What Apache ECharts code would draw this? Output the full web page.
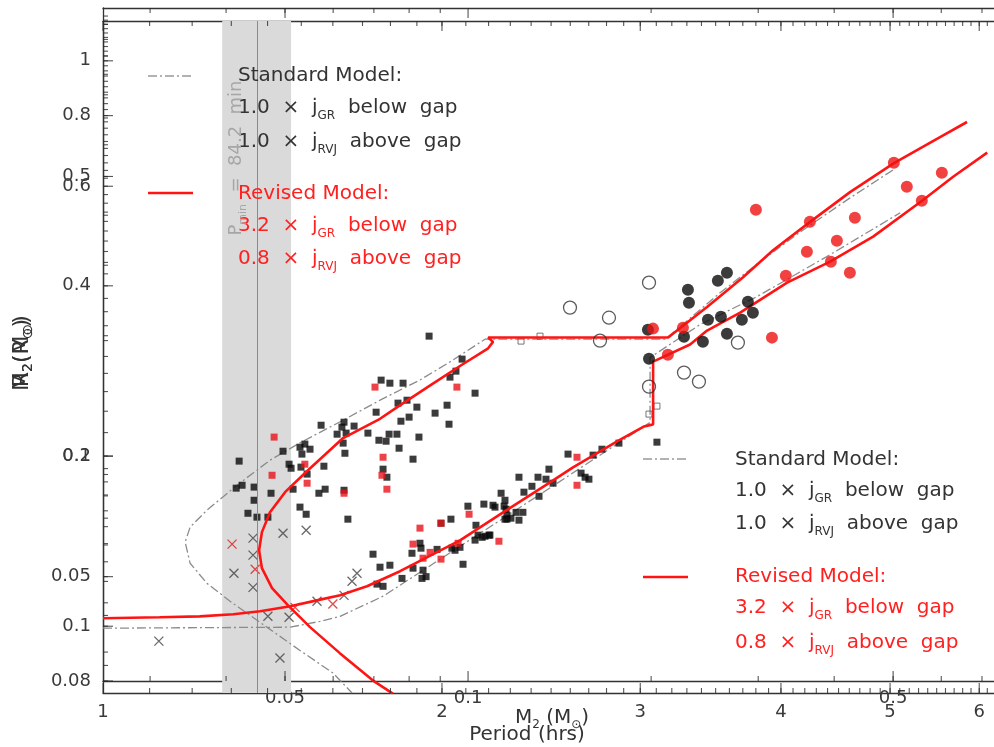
<!DOCTYPE html>
<html><head><meta charset="utf-8">
<script src="https://cdn.jsdelivr.net/npm/echarts@6/dist/echarts.min.js"></script>
<style>html,body{margin:0;padding:0;background:#fff}#c{width:994px;height:747px}</style>
</head><body><div id="c"></div><script>
// ---------- tick labels ----------
const periodTickLabels = [1, 2, 3, 4, 5, 6];
const m2TickLabels = [0.05, 0.1, 0.5];
const r2TickLabels = [0.08, 0.1, 0.2, 0.4, 0.6, 0.8, 1];

// ---------- period-gap / period-minimum band (hrs) ----------
const bandStart = 1.276, bandEnd = 1.469, pMin = 1.370;

// ---------- M2 - P plane  [Period (hrs), M2 (Msun)] ----------
const revisedMP = [[5.852,0.684],[5.538,0.627],[5.040,0.540],[4.607,0.457],[4.246,0.385],[3.936,0.327],[3.702,0.280],[3.439,0.236],[3.176,0.198],[2.198,0.198],[2.220,0.193],[2.198,0.186],[2.075,0.168],[1.951,0.150],[1.835,0.134],[1.762,0.124],[1.634,0.111],[1.514,0.0912],[1.451,0.0813],[1.407,0.0724],[1.384,0.0646],[1.376,0.0582],[1.384,0.0525],[1.413,0.0468],[1.460,0.0424],[1.527,0.0374],[1.623,0.0322],[1.737,0.0275],[1.809,0.0255]];
const standardMP = [[5.030,0.519],[4.607,0.442],[4.159,0.363],[3.832,0.306],[3.532,0.256],[3.321,0.221],[3.156,0.196],[2.184,0.196],[2.033,0.172],[1.912,0.155],[1.762,0.138],[1.634,0.123],[1.496,0.108],[1.407,0.0977],[1.315,0.0846],[1.237,0.0733],[1.195,0.0665],[1.183,0.0610],[1.195,0.0540],[1.237,0.0481],[1.304,0.0429],[1.398,0.0374],[1.496,0.0327],[1.601,0.0287],[1.664,0.0256]];
const blackSquares = [[1.948,0.1995],[2.084,0.1748],[2.058,0.1631],[2.033,0.1576],[1.766,0.1549],[1.798,0.1522],[1.847,0.1522],[2.140,0.1437],[2.021,0.1341],[1.972,0.1281],[1.900,0.1326],[1.870,0.1252],[1.828,0.1357],[1.862,0.1380],[1.839,0.1223],[2.029,0.1202],[1.908,0.1116],[1.824,0.1135],[1.795,0.1135],[1.758,0.1096],[1.784,0.1090],[1.832,0.1047],[1.885,0.0983],[1.773,0.0928],[1.748,0.1288],[1.787,0.0886],[1.637,0.1216],[1.630,0.1182],[1.671,0.1189],[1.614,0.1135],[1.644,0.1142],[1.562,0.1195],[1.719,0.1142],[1.640,0.1017],[1.634,0.1078],[1.496,0.1053],[1.511,0.1072],[1.527,0.1041],[1.445,0.1029],[1.502,0.1012],[1.321,0.0972],[1.463,0.0955],[1.469,0.0933],[1.499,0.0939],[1.571,0.0944],[1.518,0.0902],[1.313,0.0832],[1.329,0.0846],[1.362,0.0837],[1.410,0.0808],[1.362,0.0776],[1.555,0.0808],[1.575,0.0827],[1.637,0.0822],[1.345,0.0720],[1.370,0.0704],[1.401,0.0704],[1.496,0.0746],[1.515,0.0716],[1.650,0.0696],[1.475,0.0827],
[1.737,0.0569],[1.762,0.0528],[1.798,0.0534],[1.751,0.0479],[1.773,0.0473],[1.843,0.0495],[1.885,0.0525],[1.924,0.0519],[1.936,0.0500],[1.920,0.0495],[1.912,0.0606],[1.916,0.0589],[1.881,0.0572],[1.980,0.0585],[2.041,0.0589],[2.075,0.0592],[2.054,0.0582],[2.088,0.0537],[2.037,0.0696],[1.996,0.0680],[2.109,0.0750],[2.179,0.0759],[2.229,0.0746],[2.220,0.0754],[2.144,0.0672],[2.153,0.0635],[2.140,0.0617],[2.184,0.0631],[2.202,0.0635],[2.171,0.0627],[2.257,0.0808],[2.275,0.0776],[2.271,0.0750],[2.284,0.0712],[2.284,0.0696],[2.327,0.0724],[2.360,0.0724],[2.341,0.0692],[2.341,0.0886],[2.434,0.0886],[2.474,0.0876],[2.365,0.0813],[2.404,0.0841],[2.439,0.0794],[2.489,0.0928],[2.510,0.0856],[2.588,0.1012],[2.724,0.1006],[2.774,0.1041],[2.872,0.1078],[2.658,0.0907],[2.680,0.0886],[2.701,0.0876],[2.206,0.0635],[2.303,0.0700],[2.280,0.0737],[2.275,0.0696],[3.104,0.1084]];
const redSquares = [[1.744,0.1488],[2.062,0.1488],[1.419,0.1116],[1.511,0.0955],[1.413,0.0896],[1.518,0.0856],[1.637,0.0808],[1.773,0.0994],[1.769,0.0896],[1.787,0.0827],[1.912,0.0661],[1.885,0.0603],[1.996,0.0680],[2.114,0.0716],[2.067,0.0606],[1.996,0.0553],[1.924,0.0556],[1.952,0.0575],[2.247,0.0613],[2.636,0.0994],[2.636,0.0846]];
const blackCrosses = [[1.445,0.0642],[1.515,0.0653],[1.359,0.0624],[1.359,0.0566],[1.307,0.0510],[1.359,0.0470],[1.401,0.0398],[1.463,0.0396],[1.436,0.0313],[1.121,0.0345],[1.681,0.0510],[1.664,0.0487],[1.637,0.0449],[1.549,0.0434]];
const redCrosses = [[1.302,0.0603],[1.365,0.0522],[1.481,0.0419],[1.600,0.0427]];
const openSquares = [[2.351,0.1939],[2.444,0.1995],[3.054,0.1274],[3.104,0.1334]];

// ---------- R2 - M2 plane  [M2 (Msun), R2 (Rsun)] ----------
const revisedRM = [[0.0251,0.1033],[0.0311,0.1037],[0.0362,0.1041],[0.0411,0.1050],[0.0455,0.1063],[0.0510,0.1085],[0.0564,0.1111],[0.0616,0.1134],[0.0682,0.1177],[0.0773,0.1251],[0.0843,0.1313],[0.0970,0.1418],[0.1142,0.1590],[0.1364,0.1796],[0.1488,0.1910],[0.1758,0.2123],[0.1948,0.2256],[0.2015,0.2275],[0.2015,0.2938],[0.2318,0.3149],[0.2472,0.3334],[0.2802,0.3587],[0.3347,0.4053],[0.3939,0.4414],[0.4636,0.4887],[0.5580,0.5657],[0.6276,0.6237],[0.7140,0.6879]];
const standardRM = [[0.0251,0.0992],[0.0510,0.0996],[0.0571,0.1020],[0.0616,0.1041],[0.0725,0.1130],[0.1328,0.1724],[0.1992,0.2293],[0.1992,0.2987],[0.2407,0.3416],[0.2987,0.3828],[0.3939,0.4541],[0.5137,0.5386]];
const openCircles = [[0.1471,0.366],[0.1705,0.3513],[0.1648,0.3199],[0.1984,0.4052],[0.2778,0.3174],[0.2265,0.2809],[0.2397,0.2708],[0.1984,0.2653]];
const blackCircles = [[0.1976,0.3346],[0.1984,0.2973],[0.2299,0.3938],[0.2308,0.3735],[0.2575,0.4085],[0.2665,0.4220],[0.2480,0.3485],[0.2605,0.3528],[0.2820,0.3485],[0.2885,0.3750],[0.2940,0.3586],[0.2665,0.3292],[0.2433,0.3186],[0.2265,0.3252]];
const redCircles = [[0.2974,0.5454],[0.3648,0.5194],[0.3607,0.4597],[0.4041,0.4807],[0.4326,0.5279],[0.3331,0.4169],[0.3950,0.4413],[0.4245,0.4220],[0.5014,0.6603],[0.5266,0.5989],[0.5574,0.5657],[0.6013,0.6340],[0.3160,0.3239],[0.2014,0.3360],[0.2131,0.3022],[0.2256,0.3373]];

// ---------- axis ranges & minor tick positions ----------
const pRange = [1, 6.184], m2ARange = [0.0256, 1.223], m2BRange = [0.0251, 0.7326], r2Range = [0.08, 1.24];
function steps(a, b, s) { const r = []; for (let v = a; v <= b + 1e-9; v += s) r.push(+v.toFixed(4)); return r; }
const periodMinor = steps(1.1, 6.1, 0.1);
const m2XMinor = steps(0.03, 0.09, 0.01).concat(steps(0.2, 0.7, 0.1));
const m2YMinor = steps(0.03, 0.09, 0.01).concat(steps(0.2, 1.2, 0.1));
const r2Minor = steps(0.08, 0.2, 0.01).concat(steps(0.22, 1.2, 0.02));

const AX = '#333';
const FONT = 'DejaVu Sans';
const fmt = v => String(+Number(v).toPrecision(4));

function axis(grid, range, pos, labels, margin) {
  return {
    gridIndex: grid, type: 'log', logBase: 10, min: range[0], max: range[1], position: pos,
    axisLine: { show: true, onZero: false, lineStyle: { color: AX, width: 1.3 } },
    axisTick: { show: false },
    axisLabel: labels ? { show: true, customValues: labels, formatter: fmt, margin: margin,
      fontSize: 18, fontFamily: FONT, color: '#3a3a3a' } : { show: false },
    splitLine: { show: false }, minorTick: { show: false }, minorSplitLine: { show: false }
  };
}

const xAxis = [
  axis(0, pRange, 'bottom', periodTickLabels, 10),
  axis(0, pRange, 'top', null, 0),
  axis(1, m2BRange, 'bottom', m2TickLabels, 8),
  axis(1, m2BRange, 'top', null, 0)
];
const yAxis = [
  axis(0, m2ARange, 'left', m2TickLabels, 12),
  axis(1, r2Range, 'left', r2TickLabels, 12)
];

// inward tick marks as tiny bars anchored on the frame edges (positioned by the axes' scales)
function tickMarks(xi, yi, values, side, len, xr, yr) {
  const data = values.map(v => side === 'left' ? [xr[0], v] : side === 'bottom' ? [v, yr[0]] : [v, yr[1]]);
  return {
    type: 'scatter', xAxisIndex: xi, yAxisIndex: yi, data: data, silent: true, clip: false, z: 7,
    symbol: 'rect', symbolSize: side === 'left' ? [len, 1.1] : [1.1, len],
    symbolOffset: side === 'left' ? [len / 2, 0] : side === 'bottom' ? [0, -len / 2] : [0, len / 2],
    itemStyle: { color: '#2a2a2a' }, emphasis: { disabled: true }
  };
}

const crossPath = 'path://M0,0L10,10M10,0L0,10';
const A = { xAxisIndex: 0, yAxisIndex: 0 };
const B = { xAxisIndex: 2, yAxisIndex: 1 };
const series = [
  Object.assign({ type: 'line', data: [], z: 1, silent: true,
    markArea: { silent: true, itemStyle: { color: '#dadada' }, data: [[{ xAxis: bandStart }, { xAxis: bandEnd }]] },
    markLine: { silent: true, symbol: ['none', 'none'], label: { show: false }, lineStyle: { color: '#8a8a8a', width: 1, type: 'solid' }, data: [{ xAxis: pMin }] }
  }, A),
  tickMarks(0, 0, periodTickLabels, 'bottom', 10, pRange, m2ARange),
  tickMarks(0, 0, periodMinor, 'bottom', 5, pRange, m2ARange),
  tickMarks(0, 0, periodTickLabels, 'top', 10, pRange, m2ARange),
  tickMarks(0, 0, periodMinor, 'top', 5, pRange, m2ARange),
  tickMarks(0, 0, m2TickLabels, 'left', 10, pRange, m2ARange),
  tickMarks(0, 0, m2YMinor, 'left', 5, pRange, m2ARange),
  tickMarks(2, 1, m2TickLabels, 'bottom', 10, m2BRange, r2Range),
  tickMarks(2, 1, m2XMinor, 'bottom', 5, m2BRange, r2Range),
  tickMarks(2, 1, m2TickLabels, 'top', 10, m2BRange, r2Range),
  tickMarks(2, 1, m2XMinor, 'top', 5, m2BRange, r2Range),
  tickMarks(2, 1, r2TickLabels, 'left', 10, m2BRange, r2Range),
  tickMarks(2, 1, r2Minor, 'left', 5, m2BRange, r2Range),
  Object.assign({ type: 'line', data: standardMP, symbol: 'none', z: 3, lineStyle: { color: '#8c8c8c', width: 1.3, type: [9, 3, 2, 3] } }, A),
  Object.assign({ type: 'line', data: standardRM, symbol: 'none', z: 3, lineStyle: { color: '#8c8c8c', width: 1.3, type: [9, 3, 2, 3] } }, B),
  Object.assign({ type: 'scatter', data: blackSquares, symbol: 'rect', symbolSize: 7, z: 4, itemStyle: { color: '#0a0a0a' } }, A),
  Object.assign({ type: 'scatter', data: redSquares, symbol: 'rect', symbolSize: 7, z: 4, itemStyle: { color: '#e8141a' } }, A),
  Object.assign({ type: 'scatter', data: blackCrosses, symbol: crossPath, symbolSize: 9, z: 4, itemStyle: { color: 'transparent', borderColor: '#444', borderWidth: 1.3 } }, A),
  Object.assign({ type: 'scatter', data: redCrosses, symbol: crossPath, symbolSize: 9, z: 4, itemStyle: { color: 'transparent', borderColor: '#d42020', borderWidth: 1.3 } }, A),
  Object.assign({ type: 'scatter', data: openSquares, symbol: 'rect', symbolSize: 6, z: 4, itemStyle: { color: 'transparent', borderColor: '#555', borderWidth: 1 } }, A),
  Object.assign({ type: 'line', data: revisedMP, symbol: 'none', z: 5, lineStyle: { color: '#ff1414', width: 2.6 } }, A),
  Object.assign({ type: 'line', data: revisedRM, symbol: 'none', z: 5, lineStyle: { color: '#ff1414', width: 2.6 } }, B),
  Object.assign({ type: 'scatter', data: openCircles, symbol: 'circle', symbolSize: 13, z: 6, itemStyle: { color: 'transparent', borderColor: '#333', borderWidth: 1.3 } }, B),
  Object.assign({ type: 'scatter', data: blackCircles, symbol: 'circle', symbolSize: 12, z: 6, itemStyle: { color: '#0a0a0a' } }, B),
  Object.assign({ type: 'scatter', data: redCircles, symbol: 'circle', symbolSize: 12, z: 6, itemStyle: { color: '#ee1111' } }, B)
];

// ---------- text / legend graphics ----------
function txt(x, y, text, color) {
  return { type: 'text', x: x, y: y, z: 100, silent: true,
    style: { text: text, fill: color, fontSize: 20, fontFamily: FONT, align: 'left', verticalAlign: 'middle', lineHeight: 28,
      rich: { s: { fontSize: 12, fontFamily: FONT, fill: color, color: color, lineHeight: 12, verticalAlign: 'bottom' } } } };
}
function legendBlock(x, ys, lx, ly1, ly2) {
  const grey = '#333', red = '#ff2020';
  return [
    { type: 'line', z: 100, silent: true, shape: { x1: lx, y1: ly1, x2: lx + 45, y2: ly1 }, style: { stroke: '#999', lineWidth: 1.3, lineDash: [9, 3, 2, 3] } },
    { type: 'line', z: 100, silent: true, shape: { x1: lx, y1: ly2, x2: lx + 45, y2: ly2 }, style: { stroke: '#ff1414', lineWidth: 2.6 } },
    txt(x, ys[0], 'Standard Model:', grey),
    txt(x, ys[1], '1.0  \u00d7  j\u0307{s|GR}  below  gap', grey),
    txt(x, ys[2], '1.0  \u00d7  j\u0307{s|RVJ}  above  gap', grey),
    txt(x, ys[3], 'Revised Model:', red),
    txt(x, ys[4], '3.2  \u00d7  j\u0307{s|GR}  below  gap', red),
    txt(x, ys[5], '0.8  \u00d7  j\u0307{s|RVJ}  above  gap', red)
  ];
}
function rotText(x, y, text, color, size) {
  return { type: 'text', x: x, y: y, rotation: Math.PI / 2, z: 100, silent: true,
    style: { text: text, fill: color, fontSize: size, fontFamily: FONT, align: 'center', verticalAlign: 'middle', lineHeight: 26,
      rich: { s: { fontSize: Math.round(size * 0.62), fontFamily: FONT, fill: color, lineHeight: 11, verticalAlign: 'bottom' } } } };
}
const graphic = [].concat(
  legendBlock(238, [76, 108, 142, 194, 226, 259], 148, 76, 193),
  legendBlock(735, [460, 491, 524, 577, 608, 643], 643, 459, 577),
  [
    rotText(236, 158, 'P{s|min}  =  84.2  min', '#a6a6a6', 18),
    rotText(22, 353, 'M{s|2}(M{s|\u2299})', '#333', 22),
    rotText(22, 353, 'R{s|2}(R{s|\u2299})', '#333', 22),
    { type: 'text', x: 552, y: 718, z: 100, silent: true, style: { text: 'M{s|2} (M{s|\u2299})', fill: '#333', fontSize: 20, fontFamily: FONT, align: 'center', verticalAlign: 'middle', lineHeight: 26, rich: { s: { fontSize: 12, fontFamily: FONT, fill: '#333', lineHeight: 11, verticalAlign: 'bottom' } } } },
    { type: 'text', x: 527, y: 735, z: 100, silent: true, style: { text: 'Period (hrs)', fill: '#333', fontSize: 20, fontFamily: FONT, align: 'center', verticalAlign: 'middle' } }
  ]
);

const chart = echarts.init(document.getElementById('c'), null, { renderer: 'canvas' });
chart.setOption({
  animation: false,
  backgroundColor: '#ffffff',
  grid: [
    { left: 103, right: 0, top: 21, bottom: 54, containLabel: false, outerBoundsMode: 'none' },
    { left: 103, right: 0, top: 8, bottom: 66, containLabel: false, outerBoundsMode: 'none' }
  ],
  xAxis: xAxis, yAxis: yAxis, series: series, graphic: graphic
});
</script></body></html>
